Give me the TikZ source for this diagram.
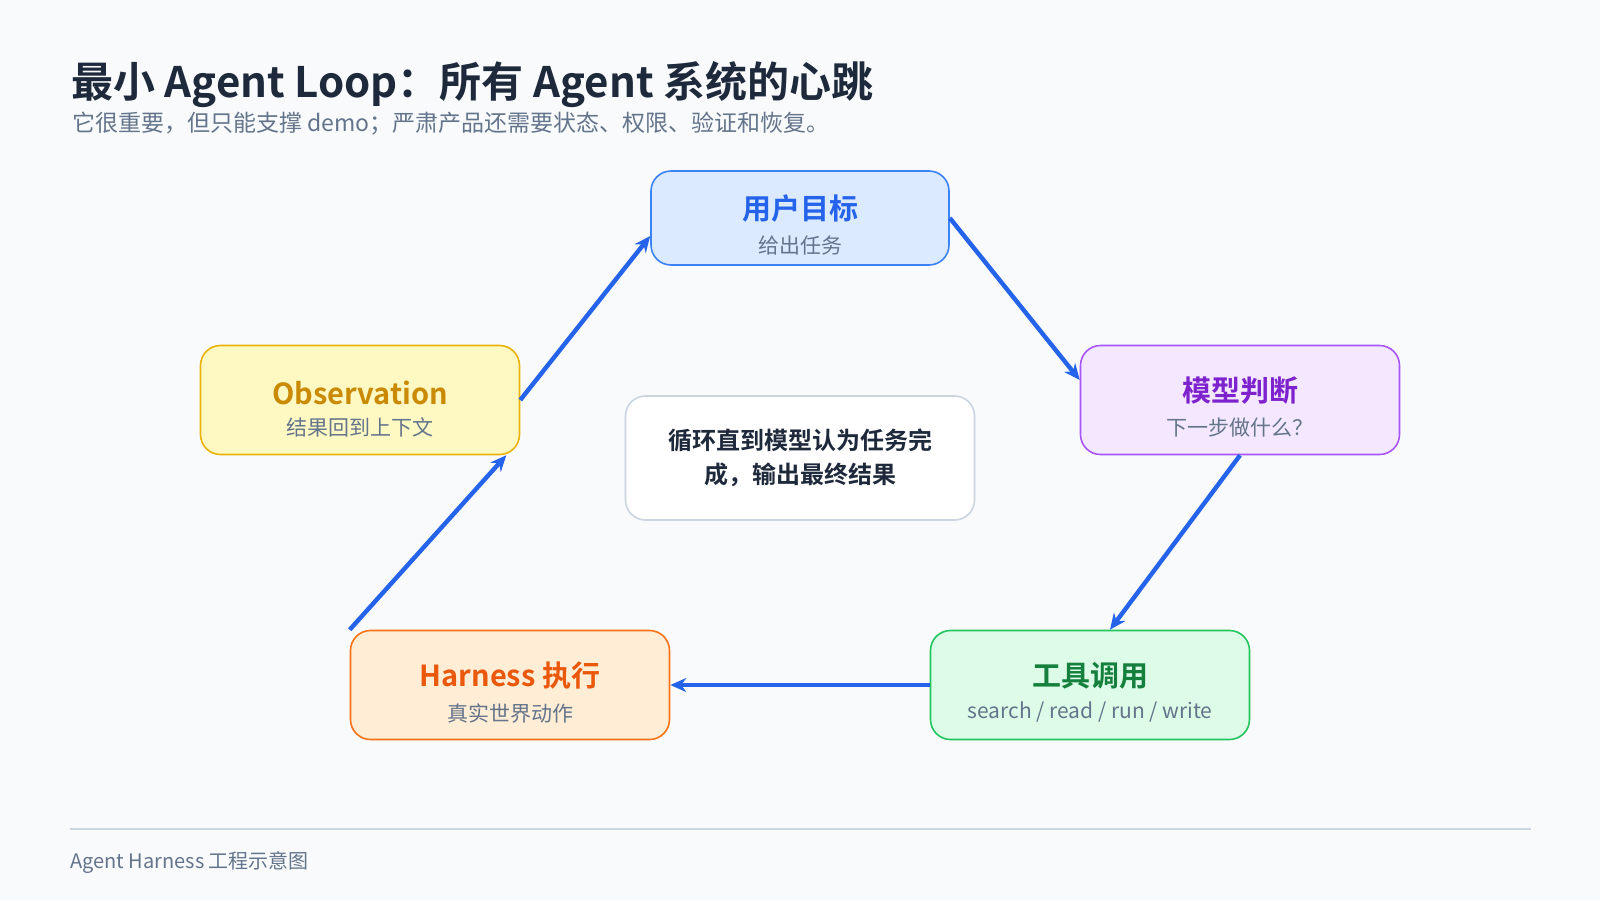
\documentclass[tikz,border=0pt]{standalone}
\usepackage{fontspec}
\setmainfont{Noto Sans CJK SC}
\newfontfamily\cjkb{Noto Sans CJK SC Bold}
\usetikzlibrary{arrows.meta}
\definecolor{bg}{HTML}{F8FAFC}
\definecolor{ink}{HTML}{1E293B}
\definecolor{muted}{HTML}{64748B}
\definecolor{arr}{HTML}{2563EB}
\definecolor{bF}{HTML}{DBEAFE}\definecolor{bD}{HTML}{3B82F6}\definecolor{bT}{HTML}{2563EB}
\definecolor{pF}{HTML}{F3E8FF}\definecolor{pD}{HTML}{A855F7}\definecolor{pT}{HTML}{7E22CE}
\definecolor{gF}{HTML}{DCFCE7}\definecolor{gD}{HTML}{22C55E}\definecolor{gT}{HTML}{15803D}
\definecolor{oF}{HTML}{FFEDD5}\definecolor{oD}{HTML}{F97316}\definecolor{oT}{HTML}{EA580C}
\definecolor{yF}{HTML}{FEF9C3}\definecolor{yD}{HTML}{EAB308}\definecolor{yT}{HTML}{CA8A04}
\definecolor{cD}{HTML}{CBD5E1}
\tikzset{
 card/.style={draw, line width=0.8pt, rounded corners=10pt, minimum width=159.5pt, minimum height=54.5pt},
 ttl/.style={font=\cjkb\fontsize{14.5}{16}\selectfont},
 sub/.style={font=\fontsize{10.5}{12}\selectfont, text=muted},
 flow/.style={draw=arr, line width=2.2pt, -{Stealth[length=8pt,width=7pt]}}
}
\begin{document}
\begin{tikzpicture}[x=0.5pt,y=-0.5pt]
\fill[bg] (0,0) rectangle (1600,900);
\useasboundingbox (0,0) rectangle (1600,900);
\node[anchor=base west, inner sep=0, text=ink, font=\cjkb\fontsize{21}{24}\selectfont] (title) at (71,97) {最小 Agent Loop：所有 Agent 系统的心跳};
\node[anchor=base west, inner sep=0, text=muted, font=\fontsize{11.5}{13}\selectfont] (subt) at (72,131) {它很重要，但只能支撑 demo；严肃产品还需要状态、权限、验证和恢复。};

\node[card, fill=bF, draw=bD, minimum width=149pt, minimum height=47pt] (goal) at (800,218) {};
\node[ttl, text=bT] (goalt) at (800,209) {用户目标};
\node[sub] (goals) at (800,246) {给出任务};

\node[card, fill=yF, draw=yD] (obs) at (360,400) {};
\node[ttl, text=yT] (obst) at (360,393) {Observation};
\node[sub] (obss) at (360,427) {结果回到上下文};

\node[card, fill=pF, draw=pD] (mod) at (1240,400) {};
\node[ttl, text=pT] (modt) at (1240,391) {模型判断};
\node[sub] (mods) at (1240,428) {下一步做什么？};

\node[card, fill=gF, draw=gD] (tool) at (1090,685) {};
\node[ttl, text=gT] (toolt) at (1090,676) {工具调用};
\node[sub] (tools) at (1090,712) {search / read / run / write};

\node[card, fill=oF, draw=oD] (har) at (510,685) {};
\node[ttl, text=oT] (hart) at (510,676) {Harness 执行};
\node[sub] (hars) at (510,713) {真实世界动作};

\node[draw=cD, fill=white, line width=0.8pt, rounded corners=10pt, minimum width=174.5pt, minimum height=62pt, align=center, text=ink, font=\cjkb\fontsize{12}{17}\selectfont] (ctr) at (800,458) {循环直到模型认为任务完\\成，输出最终结果};

\draw[flow] (obs.east) -- ([yshift=-9pt]goal.west);
\draw[flow] (goal.east) -- ([yshift=10pt]mod.west);
\draw[flow] (mod.south) -- ([xshift=10pt]tool.north);
\draw[flow] (tool.west) -- (har.east);
\draw[flow] (har.north west) -- ([xshift=-7pt]obs.south east);

\draw[cD, line width=0.8pt] (70,829) -- (1531,829);
\node[anchor=base west, inner sep=0, text=muted, font=\fontsize{10}{12}\selectfont] (foot) at (70,868) {Agent Harness 工程示意图};
\end{tikzpicture}
\end{document}
